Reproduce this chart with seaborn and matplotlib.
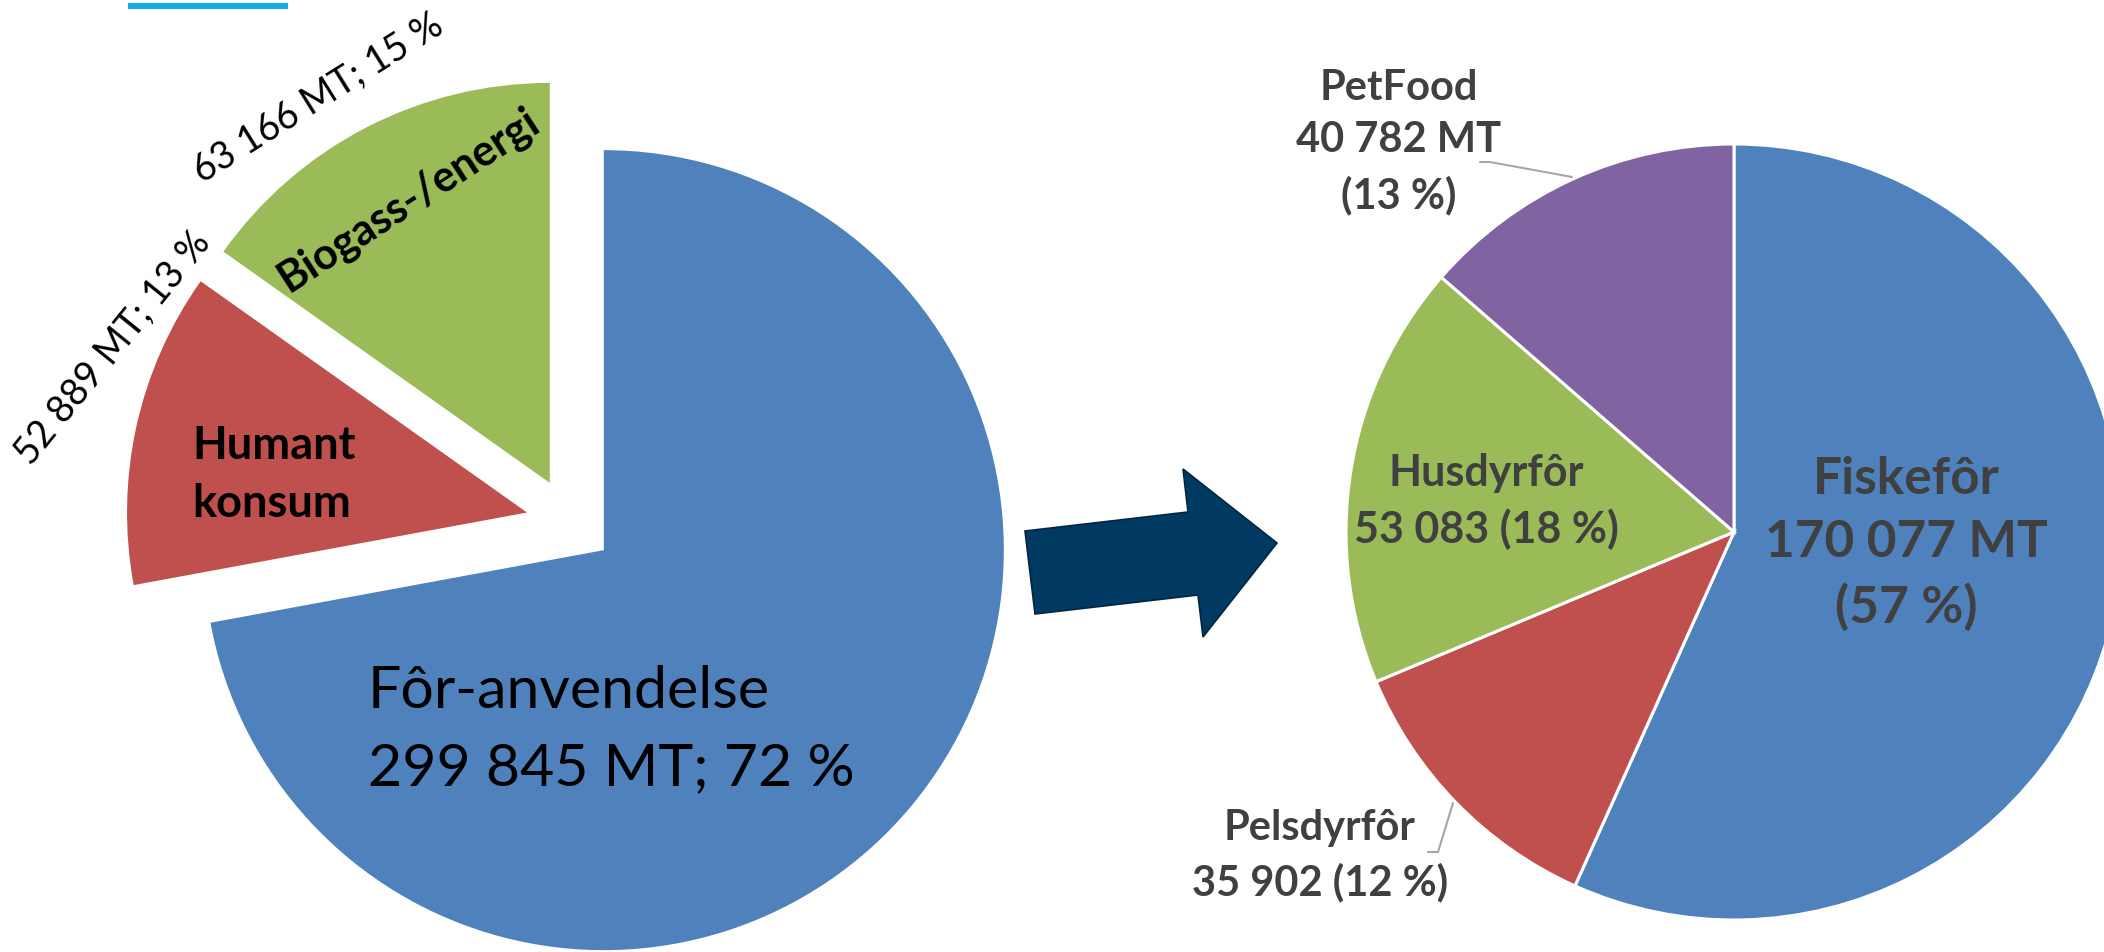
import matplotlib
matplotlib.use("Agg")
import matplotlib.pyplot as plt
from matplotlib.patches import Polygon, Rectangle
import seaborn as sns

# data
left_labels = ["Fôr-anvendelse", "Humant\nkonsum", "Biogass-/energi"]
left_values = [299845, 52889, 63166]
left_pcts = [72, 13, 15]

right_labels = ["Fiskefôr", "Pelsdyrfôr", "Husdyrfôr", "PetFood"]
right_values = [170077, 35902, 53083, 40782]
right_pcts = [57, 12, 18, 13]

office = sns.color_palette(["#4F81BD", "#C0504D", "#9BBB59", "#8064A2"])

sns.set_theme(style="white")
plt.rcParams["font.family"] = ["Lato", "DejaVu Sans"]

W, H = 2104, 952


def Y(y):
    # image row -> data y (origin bottom)
    return H - y


def fmt(v):
    return f"{v:,}".replace(",", " ")


fig = plt.figure(figsize=(W / 100, H / 100), dpi=100)
ax = fig.add_axes([0, 0, 1, 1])

# left pie: all slices pulled apart
R1 = 400
ax.pie(left_values, colors=office[:3], startangle=90, counterclock=False,
       radius=R1, center=(570, Y(522)), explode=[0.11 * R1] * 3,
       wedgeprops=dict(linewidth=0))

# right pie
R2 = 388
ax.pie(right_values, colors=[office[0], office[1], office[2], office[3]],
       startangle=90, counterclock=False, radius=R2, center=(1734, Y(532)),
       wedgeprops=dict(edgecolor="white", linewidth=2.2))

ax.set_xlim(0, W)
ax.set_ylim(0, H)
ax.set_aspect("equal")
ax.axis("off")

# little accent bar at the top
ax.add_patch(Rectangle((128, Y(9)), 160, 6, color="#11ACE6", lw=0))

# arrow between the pies
arrow = [(1025, 531), (1188, 512), (1183, 469), (1277, 543),
         (1203, 637), (1198, 595), (1035, 614)]
ax.add_patch(Polygon([(x, Y(y)) for x, y in arrow], closed=True,
                     facecolor="#003A63", edgecolor="#002640", lw=1.2))

# left pie labels (y = baseline of the last line)
ax.text(368, Y(785), f"{left_labels[0]}\n{fmt(left_values[0])} MT; {left_pcts[0]} %",
        fontsize=42.5, color="black", ha="left", va="baseline", linespacing=1.56)
ax.text(192, Y(517), left_labels[1], fontsize=32.5, fontweight="bold",
        color="black", ha="left", va="baseline", linespacing=1.47)
ax.text(408, Y(200), left_labels[2], fontsize=31, fontweight="bold",
        color="black", ha="center", va="center", rotation=33,
        rotation_mode="anchor")
ax.text(113, Y(348), f"{fmt(left_values[1])} MT; {left_pcts[1]} %",
        fontsize=27, color="black", ha="center", va="center", rotation=51,
        rotation_mode="anchor")
ax.text(318, Y(98), f"{fmt(left_values[2])} MT; {left_pcts[2]} %",
        fontsize=27, color="black", ha="center", va="center", rotation=32,
        rotation_mode="anchor")

# right pie labels
grey = "#404040"
ax.text(1906, Y(623),
        f"{right_labels[0]}\n{fmt(right_values[0])} MT\n({right_pcts[0]} %)",
        fontsize=37, fontweight="bold", color=grey, ha="center",
        va="baseline", multialignment="center", linespacing=1.43)
ax.text(1320, Y(895), f"{right_labels[1]}\n{fmt(right_values[1])} ({right_pcts[1]} %)",
        fontsize=30, fontweight="bold", color=grey, ha="center",
        va="baseline", multialignment="center", linespacing=1.47)
ax.text(1486, Y(543), f"{right_labels[2]}\n{fmt(right_values[2])} ({right_pcts[2]} %)",
        fontsize=31, fontweight="bold", color=grey, ha="center",
        va="baseline", multialignment="center", linespacing=1.45)
ax.text(1399, Y(208),
        f"{right_labels[3]}\n{fmt(right_values[3])} MT\n({right_pcts[3]} %)",
        fontsize=30, fontweight="bold", color=grey, ha="center",
        va="baseline", multialignment="center", linespacing=1.48)

# leader lines
ax.plot([1480, 1490, 1572], [Y(162), Y(162), Y(177)], color="#A6A6A6", lw=1.5)
ax.plot([1428, 1438, 1453], [Y(852), Y(852), Y(803)], color="#A6A6A6", lw=1.5)

fig.savefig("out.png", dpi=100)
